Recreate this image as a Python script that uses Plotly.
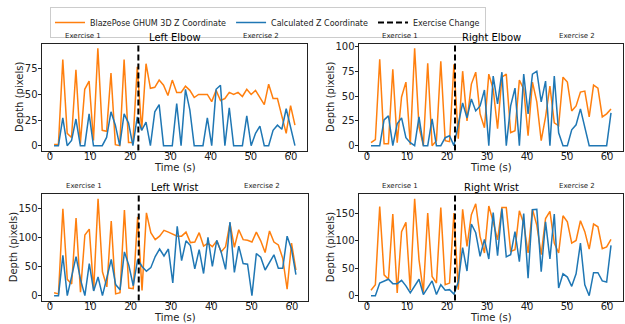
import numpy as np
import plotly.graph_objects as go

# ---- data ----
time_s = list(np.round(np.linspace(1, 61, 56), 2))
exercise_change = 22

left_elbow_blaze = [1,1,84,12,8,74,2,55,63,5, 95,15,14,71,1,0,84,3,3,77,
                    15,80,56,57,64,59,49,64,52,52, 58,54,47,50,50,50,43,54,44,46,
                    52,50,52,48,55,50,54,47,40,60, 46,46,28,12,39,20]
left_elbow_calc = [0,0,27,0,5,26,0,0,31,0, 0,0,8,33,20,0,31,22,0,28,
                   15,23,0,33,40,0,0,0,41,0, 55,35,0,0,0,27,0,55,59,0,
                   37,0,0,0,29,0,12,19,0,0, 15,20,16,36,18,0]
right_elbow_blaze = [3,6,87,2,2,77,3,49,64,1, 98,19,0,83,0,5,85,5,4,82,
                     7,75,25,62,74,32,18,72,57,17, 69,72,13,15,66,57,10,64,44,5,
                     29,60,23,20,69,64,35,40,54,55, 29,61,58,29,32,37]
right_elbow_calc = [0,0,0,26,30,0,22,28,8,3, 0,29,0,0,27,0,0,8,10,0,
                    22,43,28,47,35,40,56,0,70,42, 74,0,40,58,0,72,32,72,75,44,
                    65,0,70,13,0,0,16,21,37,20, 0,0,0,0,0,33]
left_wrist_blaze = [5,3,149,28,20,133,6,104,114,9, 166,41,15,128,3,5,147,13,12,135,
                    9,142,108,96,102,112,109,105,102,102, 109,91,92,108,85,90,84,94,75,84,
                    124,83,113,96,95,92,109,94,74,111, 92,87,64,11,90,44]
left_wrist_calc = [0,0,69,0,33,67,28,0,55,8, 32,0,31,62,19,10,75,52,17,62,
                   50,42,48,67,80,68,80,22,119,60, 94,86,46,79,38,100,50,95,75,45,
                   126,40,85,55,54,0,72,66,44,57, 70,47,47,102,80,36]
right_wrist_blaze = [10,20,163,38,30,149,5,117,134,10, 177,66,6,151,35,23,161,20,23,151,
                     11,158,90,148,168,108,78,164,135,102, 161,161,81,84,155,132,78,158,129,75,
                     141,154,96,78,146,135,96,101,137,117, 85,131,126,86,89,103]
right_wrist_calc = [0,0,23,27,30,22,22,28,18,5, 18,30,2,15,27,2,20,10,11,3,
                    25,88,45,131,115,72,103,67,152,73, 159,71,75,117,62,150,32,157,158,44,
                    135,67,149,14,40,34,17,40,96,20, 0,42,42,27,25,92]

panel_titles = ["Left Elbow", "Right Elbow", "Left Wrist", "Right Wrist"]
y_ticks = [[0, 25, 50, 75], [0, 25, 50, 75, 100], [0, 50, 100, 150], [0, 50, 100, 150]]
x_ticks = [0, 10, 20, 30, 40, 50, 60]
exercise_labels = ["Exercise 1", "Exercise 2"]
exercise_label_x = [8.3, 52.5]
x_title = "Time (s)"
y_title = "Depth (pixels)"

series = [(left_elbow_blaze, left_elbow_calc), (right_elbow_blaze, right_elbow_calc),
          (left_wrist_blaze, left_wrist_calc), (right_wrist_blaze, right_wrist_calc)]

W, H = 625, 324
ORANGE = "#ff7f0e"
BLUE = "#1f77b4"
FONT = "DejaVu Sans"
TXT = "#222222"

# pixel boxes of the four axes (left, right, top, bottom) and y-title offsets
boxes = [(42, 307, 43.5, 150.5), (359, 623, 43.5, 150.5),
         (42, 308, 194, 300.5), (359, 623, 194, 300.5)]
ytitle_off = [23, 29, 29, 29]

fig = go.Figure()
layout = dict(width=W, height=H, margin=dict(l=0, r=0, t=0, b=0),
              paper_bgcolor="white", plot_bgcolor="white",
              font=dict(family=FONT, size=10, color="black"),
              showlegend=True)
annotations = []
shapes = []

for i, ((blaze, calc), title, yt, box, yo) in enumerate(zip(series, panel_titles, y_ticks, boxes, ytitle_off)):
    n = i + 1
    xa = "xaxis" if n == 1 else f"xaxis{n}"
    ya = "yaxis" if n == 1 else f"yaxis{n}"
    xr = "x" if n == 1 else f"x{n}"
    yr = "y" if n == 1 else f"y{n}"
    fig.add_trace(go.Scatter(x=time_s, y=blaze, mode="lines", xaxis=xr, yaxis=yr,
                             line=dict(color=ORANGE, width=1.5),
                             name="BlazePose GHUM 3D Z Coordinate", legendgroup="b",
                             showlegend=(n == 1), hoverinfo="skip"))
    fig.add_trace(go.Scatter(x=time_s, y=calc, mode="lines", xaxis=xr, yaxis=yr,
                             line=dict(color=BLUE, width=1.5),
                             name="Calculated Z Coordinate", legendgroup="c",
                             showlegend=(n == 1), hoverinfo="skip"))
    l, r, t, b = box
    vals = blaze + calc
    lo, hi = min(vals), max(vals)
    pad = 0.05 * (hi - lo)
    common = dict(showline=True, linecolor=TXT, linewidth=1, mirror=True,
                  ticks="outside", ticklen=3.5, tickwidth=0.8, tickcolor=TXT,
                  showgrid=False, zeroline=False, automargin=False,
                  tickfont=dict(size=10, family=FONT, color=TXT))
    layout[xa] = dict(domain=[l / W, r / W], anchor=yr, range=[-2, 64],
                      tickvals=x_ticks, ticklabelstandoff=-7, **common)
    layout[ya] = dict(domain=[1 - b / H, 1 - t / H], anchor=xr,
                      range=[lo - pad, hi + pad], tickvals=yt,
                      ticklabelstandoff=-2, **common)
    shapes.append(dict(type="line", xref=xr, x0=exercise_change, x1=exercise_change,
                       yref=f"{yr} domain", y0=0, y1=1,
                       line=dict(color="black", width=2, dash="6px,3px")))
    annotations.append(dict(text=title, xref="paper", yref="paper",
                            x=(l + r) / 2 / W, y=1 - t / H, yanchor="bottom",
                            xanchor="center", showarrow=False, yshift=-1,
                            font=dict(size=10, family=FONT, color="black")))
    annotations.append(dict(text=x_title, xref="paper", yref="paper",
                            x=(l + r) / 2 / W, y=1 - b / H, yanchor="middle",
                            xanchor="center", showarrow=False, yshift=-17,
                            font=dict(size=10, family=FONT, color=TXT)))
    annotations.append(dict(text=y_title, xref="paper", yref="paper",
                            x=l / W, y=1 - (t + b) / 2 / H, yanchor="middle",
                            xanchor="center", showarrow=False, xshift=-yo, textangle=-90,
                            font=dict(size=10, family=FONT, color=TXT)))
    for lab, lx in zip(exercise_labels, exercise_label_x):
        annotations.append(dict(text=lab, xref=xr, yref="paper", x=lx, y=1 - t / H,
                                yanchor="bottom", xanchor="center", showarrow=False,
                                yshift=2, font=dict(size=7, family=FONT, color=TXT)))

fig.add_trace(go.Scatter(x=[None], y=[None], mode="lines",
                         line=dict(color="black", width=2, dash="6px,3px"),
                         name="Exercise Change", showlegend=True))

layout["annotations"] = annotations
layout["shapes"] = shapes
layout["legend"] = dict(orientation="h", x=268 / W, y=1 - 7 / H, xanchor="center",
                        yanchor="top", bordercolor="#cccccc", borderwidth=1,
                        font=dict(size=8, family=FONT, color=TXT),
                        bgcolor="white", tracegroupgap=0)
fig.update_layout(**layout)
fig.write_html("out.html", config={"displayModeBar": False},
               post_script="document.body.style.margin='0';document.body.style.overflow='hidden';")
